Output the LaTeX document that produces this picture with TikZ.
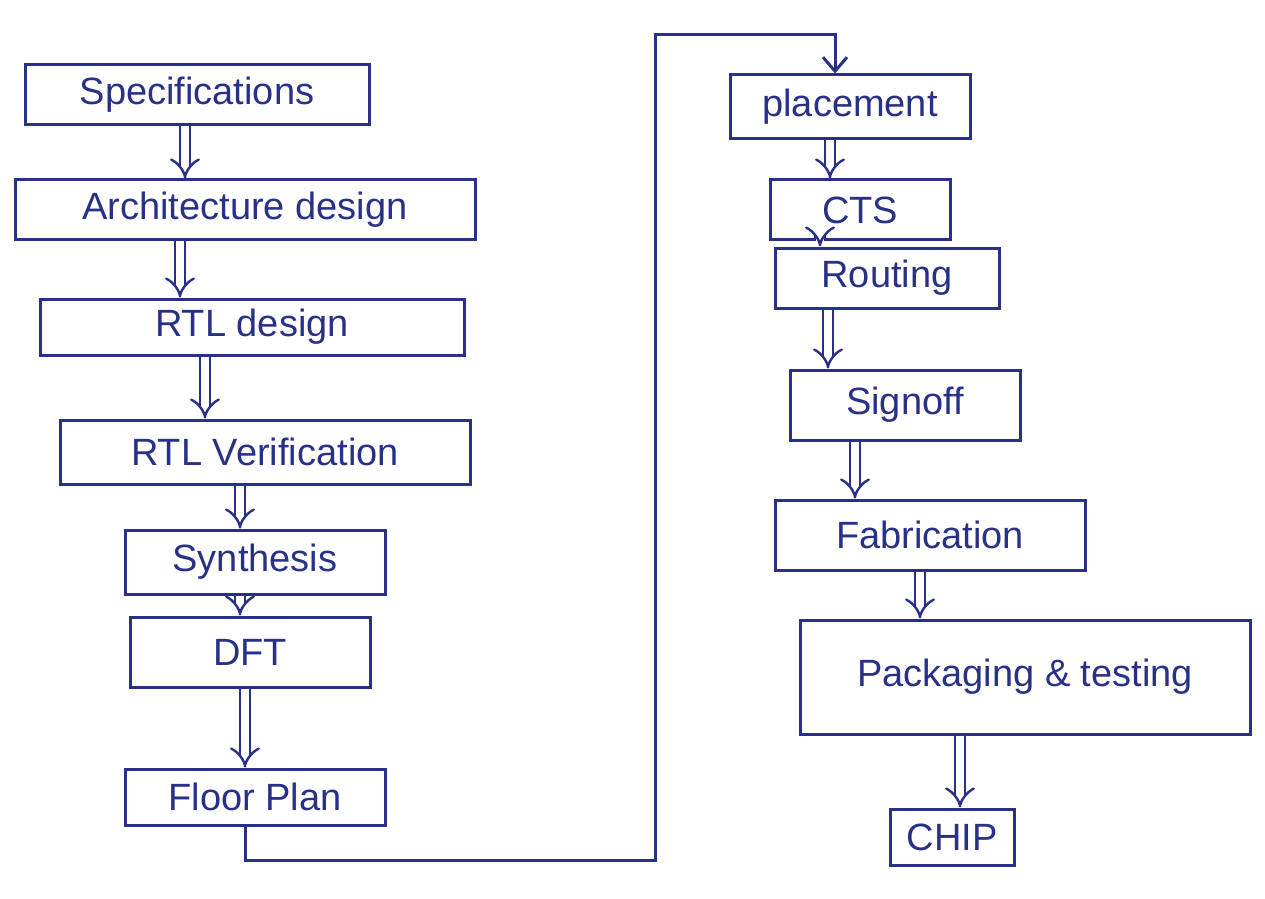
\documentclass[tikz,border=0pt]{standalone}
\usepackage{fontspec}
\setmainfont{Liberation Sans}
\usetikzlibrary{arrows.meta}
\definecolor{ink}{RGB}{40,48,135}
\tikzset{
  stage/.style={draw=ink, line width=1.5pt, text=ink, font=\fontsize{19}{22}\selectfont, minimum width=#1, inner sep=2pt},
  dbl/.style={draw=ink, line width=1.2pt, double=white, double distance=4pt, -{Implies}},
  sgl/.style={draw=ink, line width=1.5pt, -{Straight Barb[length=7pt,width=12pt]}}
}
\begin{document}
\begin{tikzpicture}[x=0.5pt,y=-0.5pt]
\useasboundingbox (0,0) rectangle (1265,899);
% left column
\node[stage=172pt, minimum height=30pt] (spec) at (197,95) {Specifications};
\node[stage=230pt, minimum height=30pt] (arch) at (245,210) {Architecture design};
\node[stage=212pt, minimum height=28pt] (rtl)  at (252,327) {RTL design};
\node[stage=205pt, minimum height=32pt] (rtlv) at (265,452) {RTL Verification};
\node[stage=130pt, minimum height=32pt] (syn)  at (255,562) {Synthesis};
\node[stage=120pt, minimum height=35pt] (dft)  at (250,652) {DFT};
\node[stage=130pt, minimum height=28pt] (fp)   at (255,797) {Floor Plan};
% right column
\node[stage=120pt, minimum height=32pt] (place) at (850,107) {placement};
\node[stage=90pt,  minimum height=30pt] (cts)   at (860,210) {CTS};
\node[stage=112pt, minimum height=30pt] (rout)  at (887,278) {Routing};
\node[stage=115pt, minimum height=35pt] (sign)  at (905,405) {Signoff};
\node[stage=155pt, minimum height=35pt] (fab)   at (930,535) {Fabrication};
\node[stage=225pt, minimum height=57pt] (pack)  at (1025,677) {Packaging \& testing};
\node[stage=62pt,  minimum height=28pt] (chip)  at (952,837) {CHIP};
% double arrows
\draw[dbl] ([xshift=-6pt]spec.south) -- ([xshift=-6pt]spec.south |- arch.north);
\draw[dbl] ([xshift=-32.5pt]arch.south) -- ([xshift=-32.5pt]arch.south |- rtl.north);
\draw[dbl] ([xshift=-23.5pt]rtl.south) -- ([xshift=-23.5pt]rtl.south |- rtlv.north);
\draw[dbl] ([xshift=-12.5pt]rtlv.south) -- ([xshift=-12.5pt]rtlv.south |- syn.north);
\draw[dbl] ([xshift=-7.5pt]syn.south) -- ([xshift=-7.5pt]syn.south |- dft.north);
\draw[dbl] ([xshift=-2.5pt]dft.south) -- ([xshift=-2.5pt]dft.south |- fp.north);
\draw[dbl] ([xshift=-10pt]place.south) -- ([xshift=-10pt]place.south |- cts.north);
\draw[dbl] ([xshift=-20pt]cts.south) -- ([xshift=-20pt]cts.south |- rout.north);
\draw[dbl] ([xshift=-29.5pt]rout.south) -- ([xshift=-29.5pt]rout.south |- sign.north);
\draw[dbl] ([xshift=-25pt]sign.south) -- ([xshift=-25pt]sign.south |- fab.north);
\draw[dbl] ([xshift=-5pt]fab.south) -- ([xshift=-5pt]fab.south |- pack.north);
\draw[dbl] ([xshift=-32.5pt]pack.south) -- ([xshift=-32.5pt]pack.south |- chip.north);
% loop connector
\coordinate (c1) at (655,860);
\coordinate (c2) at (655,35);
\draw[sgl] ([xshift=-5pt]fp.south) |- (c1) -- (c2) -| ([xshift=-7.5pt]place.north);
\end{tikzpicture}
\end{document}
